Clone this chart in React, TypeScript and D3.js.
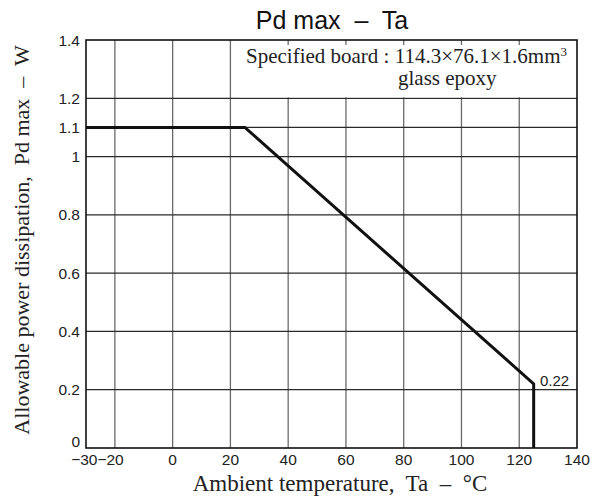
import React from "react";
import * as d3 from "d3";

const tempPoints = [-30, 25, 125, 125];
const powerPoints = [1.1, 1.1, 0.22, 0];
const xTicks = [-30, -20, 0, 20, 40, 60, 80, 100, 120, 140];
const xTickLabels = ["−30", "−20", "0", "20", "40", "60", "80", "100", "120", "140"];
const yTicks = [0, 0.2, 0.4, 0.6, 0.8, 1, 1.1, 1.2, 1.4];
const yTickLabels = ["0", "0.2", "0.4", "0.6", "0.8", "1", "1.1", "1.2", "1.4"];
const xGrid = [-20, 0, 20, 40, 60, 80, 100, 120];
const yGrid = [0.2, 0.4, 0.6, 0.8, 1, 1.1, 1.2];
const endLabel = "0.22";

const W = 600;
const H = 497;
const L = 86, R = 577, T = 40, B = 448;

export default function App() {
  const x = d3.scaleLinear().domain([-30, 140]).range([L, R]);
  const y = d3.scaleLinear().domain([0, 1.4]).range([B, T]);
  const pts: [number, number][] = tempPoints.map((t, i) => [t, powerPoints[i]]);
  const line = d3
    .line<[number, number]>()
    .x((d) => x(d[0]))
    .y((d) => y(d[1]));
  const sans = "'Liberation Sans', Arial, Helvetica, sans-serif";
  const serif = "'Liberation Serif', 'Times New Roman', serif";
  const split = (x(xTicks[0]) + x(xTicks[1])) / 2 - 3;
  return (
    <svg
      width={W}
      height={H}
      viewBox={`0 0 ${W} ${H}`}
      style={{ position: "absolute", left: 0, top: 0, background: "#fff" }}
    >
      <rect x={0} y={0} width={W} height={H} fill="#fff" />
      {/* grid */}
      {xGrid.map((v) => (
        <line key={"xg" + v} x1={x(v)} x2={x(v)} y1={T} y2={B} stroke="#6a6a6a" strokeWidth={1.3} />
      ))}
      {yGrid.map((v) => (
        <line key={"yg" + v} x1={L} x2={R} y1={y(v)} y2={y(v)} stroke="#2a2a2a" strokeWidth={1.3} />
      ))}
      {/* annotation box */}
      <rect x={239} y={45} width={R - 239 - 1} height={y(1.2) - 45 - 1} fill="#fff" />
      <text x={246} y={63} fontFamily={serif} fontSize={21} fill="#222">
        Specified board : 114.3×76.1×1.6mm
        <tspan fontSize={13} dy={-7}>3</tspan>
      </text>
      <text x={398} y={85} fontFamily={serif} fontSize={21} fill="#222">
        glass epoxy
      </text>
      {/* frame */}
      <rect x={L} y={T} width={R - L} height={B - T} fill="none" stroke="#111" strokeWidth={1.6} />
      {/* curve */}
      <path d={line(pts) || ""} fill="none" stroke="#111" strokeWidth={3} strokeLinejoin="miter" />
      <text x={540} y={386} fontFamily={sans} fontSize={15} fill="#222">
        {endLabel}
      </text>
      {/* y ticks */}
      {yTicks.map((v, i) => (
        <text
          key={"yt" + v}
          x={80}
          y={i === 0 ? y(v) - 1 : y(v)}
          dy={i === 0 ? "0" : "0.36em"}
          textAnchor="end"
          fontFamily={sans}
          fontSize={15.5}
          fill="#222"
        >
          {yTickLabels[i]}
        </text>
      ))}
      {/* x ticks */}
      {xTicks.map((v, i) => (
        <text
          key={"xt" + v}
          x={i === 0 ? split : i === 1 ? split : x(v)}
          y={465}
          textAnchor={i === 0 ? "end" : i === 1 ? "start" : "middle"}
          fontFamily={sans}
          fontSize={15.5}
          fill="#222"
        >
          {xTickLabels[i]}
        </text>
      ))}
      {/* title */}
      <text
        x={332}
        y={29}
        textAnchor="middle"
        fontFamily={sans}
        fontSize={25}
        fill="#111"
        style={{ whiteSpace: "pre" }}
      >
        {"Pd max  –  Ta"}
      </text>
      {/* axis labels */}
      <text
        x={340}
        y={491}
        textAnchor="middle"
        fontFamily={serif}
        fontSize={23}
        fill="#222"
        style={{ whiteSpace: "pre" }}
      >
        {"Ambient temperature,  Ta  –  °C"}
      </text>
      <text
        transform={`translate(29, 240) rotate(-90)`}
        textAnchor="middle"
        fontFamily={serif}
        fontSize={22}
        fill="#222"
        style={{ whiteSpace: "pre" }}
      >
        {"Allowable power dissipation,  Pd max  –  W"}
      </text>
    </svg>
  );
}
